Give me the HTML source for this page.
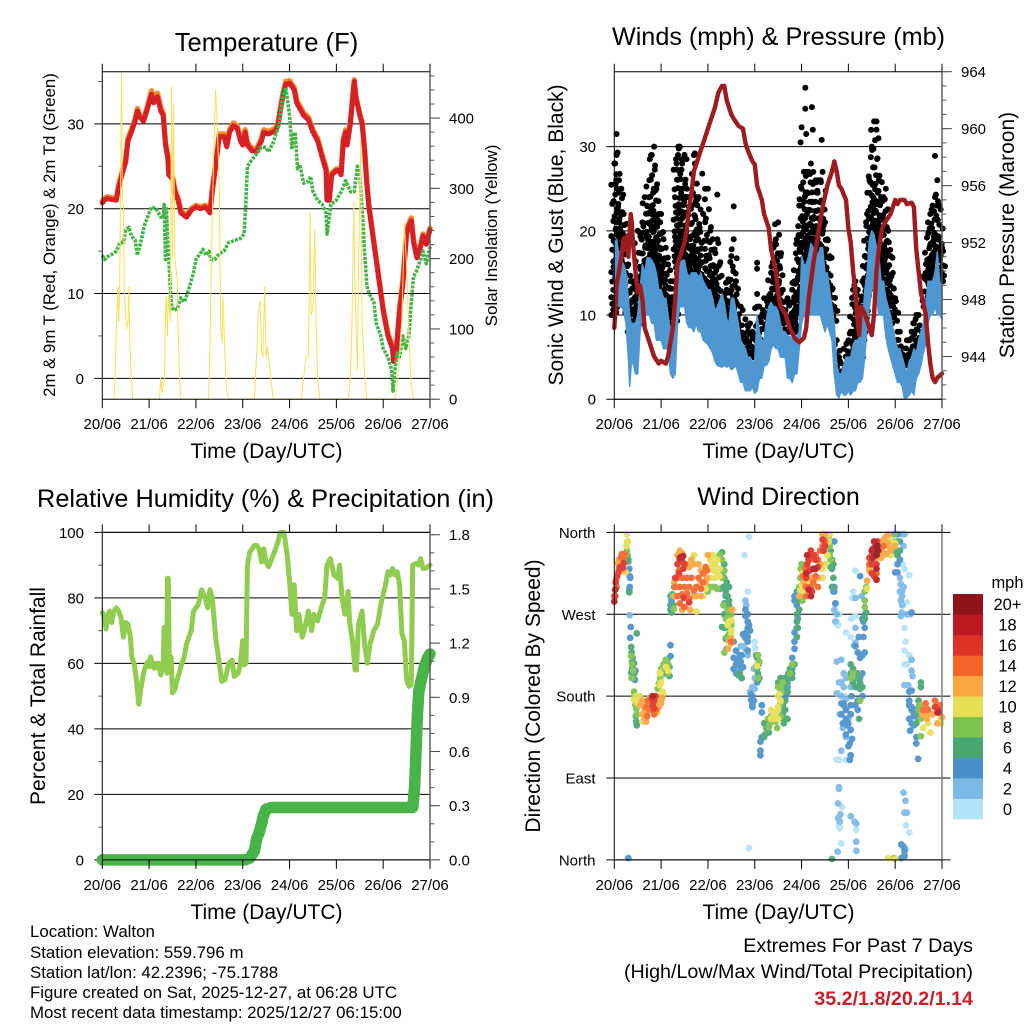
<!DOCTYPE html>
<html lang="en">
<head>
<meta charset="utf-8">
<title>Station Meteogram</title>
<style>
html,body{margin:0;padding:0;background:#fff;}
svg{display:block;font-family:"Liberation Sans",sans-serif;fill:#000;}
</style>
</head>
<body>
<svg id="chart" xmlns="http://www.w3.org/2000/svg" width="1024" height="1024" viewBox="0 0 1024 1024">
<rect width="1024" height="1024" fill="#fff"/>
<g id="marks"></g>
<text x="266.5" y="51" font-size="25.6" text-anchor="middle">Temperature (F)</text>
<text x="778.5" y="45" font-size="25.2" text-anchor="middle">Winds (mph) &amp; Pressure (mb)</text>
<text x="265.5" y="507" font-size="25.3" text-anchor="middle">Relative Humidity (%) &amp; Precipitation (in)</text>
<text x="778.5" y="505" font-size="25" text-anchor="middle">Wind Direction</text>
<text x="266.5" y="458" font-size="21" text-anchor="middle">Time (Day/UTC)</text>
<text x="778.5" y="458" font-size="21" text-anchor="middle">Time (Day/UTC)</text>
<text x="266.5" y="919" font-size="21" text-anchor="middle">Time (Day/UTC)</text>
<text x="778.5" y="919" font-size="21" text-anchor="middle">Time (Day/UTC)</text>
<text transform="translate(55 235) rotate(-90)" font-size="16.8" text-anchor="middle">2m &amp; 9m T (Red, Orange) &amp; 2m Td (Green)</text>
<text transform="translate(497 235.5) rotate(-90)" font-size="17" text-anchor="middle">Solar Insolation (Yellow)</text>
<text transform="translate(563 235) rotate(-90)" font-size="21" text-anchor="middle">Sonic Wind &amp; Gust (Blue, Black)</text>
<text transform="translate(1014 235) rotate(-90)" font-size="21" text-anchor="middle">Station Pressure (Maroon)</text>
<text transform="translate(45 696) rotate(-90)" font-size="21" text-anchor="middle">Percent &amp; Total Rainfall</text>
<text transform="translate(540 696) rotate(-90)" font-size="21" text-anchor="middle">Direction (Colored By Speed)</text>
<text x="1007.5" y="588" font-size="16.5" text-anchor="middle">mph</text>
<g font-size="16.85">
<text x="30" y="937">Location: Walton</text>
<text x="30" y="958">Station elevation: 559.796 m</text>
<text x="30" y="978">Station lat/lon: 42.2396; -75.1788</text>
<text x="30" y="998">Figure created on Sat, 2025-12-27, at 06:28 UTC</text>
<text x="30" y="1018">Most recent data timestamp: 2025/12/27 06:15:00</text>
</g>
<g font-size="19.7" text-anchor="end">
<text x="973" y="952">Extremes For Past 7 Days</text>
<text x="973" y="978">(High/Low/Max Wind/Total Precipitation)</text>
<text x="973" y="1005" font-weight="bold" fill="#c9202b">35.2/1.8/20.2/1.14</text>
</g>
</svg>
<script>
// ---------- shared labels ----------
const dayLabels = ["20/06","21/06","22/06","23/06","24/06","25/06","26/06","27/06"];
const tempTicks = [0,10,20,30];
const tempMinorTicks = [5,15,25,35];
const solarTicks = [0,100,200,300,400];
const windTicks = [0,10,20,30];
const pressureTicks = [944,948,952,956,960,964];
const humidityTicks = [0,20,40,60,80,100];
const humidityMinorTicks = [10,30,50,70,90];
const rainTicks = [0,0.3,0.6,0.9,1.2,1.5,1.8];
const rainTickLabels = ["0.0","0.3","0.6","0.9","1.2","1.5","1.8"];
const directionTicks = [0,90,180,270,360];
const directionLabels = ["North","East","South","West","North"];
const speedLabels = ["0","2","4","6","8","10","12","14","16","18","20+"];
const speedColors = ["#b5e3f9","#7db9e5","#4a90c8","#48a673","#7cc24d","#e6df55","#f7a640","#f26429","#de3227","#bb1a22","#8e1418"];

// ---------- temperature panel ----------
const tempT = [0,.05,.1,.2,.3,.35,.42,.5,.55,.62,.7,.75,.8,.88,.95,1,1.05,1.1,1.18,1.25,1.3,1.35,1.4,1.42,1.5,1.55,1.62,1.68,1.8,1.9,2,2.1,2.2,2.3,2.35,2.42,2.5,2.6,2.66,2.72,2.8,2.88,2.95,3,3.05,3.1,3.2,3.3,3.4,3.45,3.55,3.7,3.75,3.85,3.92,4,4.1,4.15,4.25,4.3,4.4,4.5,4.6,4.7,4.78,4.8,4.85,4.9,5,5.05,5.1,5.15,5.2,5.23,5.3,5.38,5.42,5.5,5.55,5.6,5.65,5.7,5.8,5.9,6,6.1,6.2,6.22,6.28,6.35,6.42,6.5,6.55,6.6,6.65,6.72,6.8,6.85,6.92,7];
const temp2m = [20.7,21,21.2,21.1,21,22.5,24,25.5,28,29,30.3,31.5,30.8,30.3,31.5,32.5,33.5,32.5,33.2,31.5,31,27.5,26,24,23.5,22,21,19.5,19,19.8,20.2,20,20.2,19.5,22,25,28.5,28.5,27.3,29,29.8,29.5,28,27.5,29,27.5,26.8,26.8,28,29,28.8,29.2,29.8,33,34.7,34.8,34,32.5,31.5,31,30.5,29,28,26,24.5,21,21,24,24.5,24.5,24,28,29,27.5,30,35,33,31,30,27,23,20,16,12,8,5,3.5,2,3,8,11,17,18,18.6,16,14.2,15.5,16.8,15.8,17.5];
const temp9m = [20.9,21.2,21.4,21.3,21.2,22.8,24.3,25.8,28.3,29.3,30.6,31.8,31,30.6,31.8,32.8,33.9,32.9,33.6,31.9,31.3,27.8,26.3,24.3,23.8,22.3,21.2,19.8,19.2,20,20.4,20.2,20.4,19.7,22.3,25.3,28.8,28.8,27.6,29.3,30.1,29.8,28.3,27.8,29.3,27.8,27.1,27.1,28.3,29.3,29.1,29.5,30.1,33.3,35,35.1,34.3,32.8,31.8,31.3,30.8,29.3,28.3,26.3,24.8,21.3,21.3,24.2,24.7,24.7,24.2,28.3,29.3,27.8,30.3,35.2,33.2,31.2,30.2,27.2,23.2,20.2,16.2,12.2,8.2,5.3,3.8,2.4,3.4,8.3,11.4,17.4,18.3,18.9,16.3,14.5,15.8,17,16,17.7];
const dewT = [0,.05,.1,.2,.3,.38,.45,.5,.57,.62,.7,.75,.82,.9,1,1.05,1.15,1.25,1.3,1.32,1.35,1.37,1.4,1.42,1.45,1.48,1.52,1.6,1.68,1.75,1.82,1.95,2,2.1,2.15,2.22,2.28,2.32,2.4,2.5,2.6,2.7,2.85,2.95,3.03,3.06,3.1,3.2,3.3,3.4,3.5,3.55,3.65,3.78,3.85,3.92,4,4.03,4.05,4.08,4.1,4.12,4.17,4.22,4.3,4.4,4.45,4.5,4.6,4.7,4.78,4.8,4.85,4.88,5,5.1,5.2,5.3,5.38,5.45,5.5,5.55,5.6,5.65,5.7,5.8,5.85,5.95,6,6.1,6.18,6.21,6.25,6.3,6.35,6.42,6.48,6.55,6.6,6.65,6.7,6.8,6.85,6.92,7];
const dewPoint = [14.5,14,14.3,14.6,15,16,16,17.5,17.8,16.8,16.3,14.5,16,18,19.5,20.2,20,19,18.9,20.5,14,20,16,14,11,8.5,8,8.2,9.5,9,10,12.5,14,14.8,15.2,14.5,15,14,14,14.7,15,16,16.3,16.5,17,20,25,25.8,26.5,27.3,27.2,26.7,27.8,30,33,34.3,31,28.5,27,29,27.5,29,24.7,25.2,23,23.2,23.8,22,21,20.5,19.5,17,19,20.5,21,22,23.3,22,22,25,24,20,15,11,10,9,6.5,5,3.5,2.5,1,-1.5,1,3,2.5,5,3.5,5,9,12,12.5,14,15,13.5,15.5];
const solarT = [.25,.27,.3,.33,.35,.37,.39,.41,.43,.45,.47,.5,.52,.55,.57,.59,.62,.65,1.22,1.25,1.28,1.33,1.35,1.37,1.39,1.41,1.45,1.48,1.5,1.52,1.55,1.6,1.62,1.65,1.68,2.27,2.3,2.33,2.38,2.42,2.45,2.5,2.53,2.56,2.58,2.62,2.65,2.7,3.25,3.3,3.33,3.37,3.4,3.43,3.47,3.5,3.53,3.55,3.6,3.65,4.25,4.3,4.35,4.4,4.44,4.46,4.5,4.54,4.57,4.6,4.65,5.25,5.3,5.33,5.35,5.37,5.4,5.45,5.48,5.52,5.55,5.6,5.65,6.25,6.3,6.35,6.4,6.45,6.5,6.55,6.6,6.65];
const solarValues = [0,20,100,160,110,150,300,465,280,280,150,120,100,110,160,80,30,0,0,30,10,30,130,145,90,150,110,445,200,420,200,170,100,30,0,0,80,200,350,440,400,300,100,80,145,60,15,0,0,70,120,140,70,60,160,60,75,60,30,0,0,30,60,60,265,120,130,240,100,30,0,0,30,100,180,280,150,40,220,370,110,40,0,0,20,60,110,250,190,90,20,0];

// ---------- winds panel ----------
const gustT = [0,.05,.1,.15,.2,.3,.35,.4,.45,.5,.6,.65,.7,.75,.8,.85,.9,.95,1,1.05,1.1,1.15,1.2,1.25,1.3,1.33,1.36,1.4,1.45,1.5,1.55,1.6,1.7,1.75,1.8,1.9,2,2.05,2.1,2.15,2.2,2.25,2.3,2.35,2.4,2.45,2.5,2.55,2.6,2.7,2.8,2.85,2.9,2.95,3,3.05,3.1,3.2,3.3,3.35,3.4,3.45,3.5,3.55,3.6,3.7,3.8,3.85,3.9,3.95,4,4.05,4.1,4.15,4.2,4.25,4.3,4.35,4.4,4.45,4.5,4.55,4.6,4.65,4.7,4.75,4.8,4.9,5,5.05,5.1,5.15,5.2,5.25,5.3,5.35,5.4,5.45,5.5,5.55,5.6,5.65,5.7,5.75,5.8,5.85,5.9,5.95,6,6.05,6.1,6.2,6.25,6.3,6.35,6.4,6.45,6.5,6.65,6.7,6.75,6.8,6.85,6.9,6.95,7];
const gustHigh = [28,29,26,25,22,16,14,14,14,20,21,24,23,26,29,30,25,22,22,19,18,16,14,14,14,28,29,30,28,29,25,24,29,24,24,22,25,20,19,15,19,16,12,12,13,14,17,19,14,11,9.5,8,9,8,7.5,11,11,12,12,15,18,19,21,17,13,12,13,14,19,23,25,27,27,27,28,27,26,26,26,27,21,19,17,13,11,7,5,6,7,8,13,14,13,9,14,17,22,26,30,33,32,26,24,24,25,20,17,15,12,8,8,5,7,7,8,9,10,10,15,21,22,23,24,23,23,18];
const gustLow = [10,14,16,18,14,10,8,9,10,9,12,12,13,14,15,15,14,14,12,11,10,9,9,9,9,16,15,14,15,15,15,14,14,14,13,12,12,12,11,10,10,10,9,9,9,8,10,11,9,7,6,5.5,5,5,5,5,6,8,9,10,10,10,10,9,9,8,8,8,10,10,12,13,14,14,15,14,15,15,13,12,11,11,11,10,9,5,3,3,3,2,3,5,6,5,6,9,12,15,17,18,17,15,14,15,12,12,11,10,9,5,5,2,4,4,5,6,7,8,11,14,14,14,15,15,14,14];
const gustOutlierT = [.05,.07,4.08,4.08,4.22,4.24,4.1,4,3.98,4.43,1.37,1.5,1.72,1.88,2.2,2.55,3.05,3.05,3.05,6.85,6.9,6.87,5.6,1.94,.02,.04];
const gustOutlierV = [31.5,29.3,37,34.5,34.7,32,31.5,32.3,30.5,30.8,30,29,29.2,26.8,24.3,22.9,16.2,15.5,12.5,28.9,26,24.3,33,25,28,26];
const windT = [0,.05,.1,.15,.2,.25,.3,.33,.36,.4,.45,.5,.55,.6,.65,.7,.75,.8,.85,.9,.95,1,1.05,1.1,1.15,1.2,1.25,1.3,1.35,1.4,1.45,1.5,1.55,1.6,1.65,1.7,1.75,1.8,1.85,1.9,2,2.05,2.1,2.15,2.2,2.3,2.35,2.4,2.45,2.5,2.55,2.6,2.65,2.7,2.75,2.8,2.85,2.9,2.95,3,3.05,3.1,3.15,3.2,3.25,3.3,3.35,3.4,3.45,3.5,3.55,3.6,3.65,3.7,3.75,3.8,3.85,3.9,3.95,4,4.05,4.1,4.15,4.2,4.25,4.3,4.35,4.4,4.45,4.5,4.55,4.6,4.65,4.7,4.75,4.8,4.85,4.9,4.95,5,5.05,5.1,5.15,5.2,5.25,5.3,5.35,5.4,5.45,5.5,5.55,5.6,5.65,5.7,5.75,5.8,5.85,5.9,5.95,6,6.05,6.1,6.15,6.2,6.25,6.3,6.35,6.4,6.45,6.5,6.55,6.6,6.65,6.7,6.75,6.8,6.85,6.9,6.95,7];
const windHigh = [18.5,19,17,16.5,16,15,12,10,9,9,9,10,13,16,15,16.8,16.8,16.5,16,15,13,13,12,12,10,8,9,10,15,16,16.5,16.5,15,14.5,15,15,15,14.5,15,14,13,13,12,10.5,11,12.5,11.5,9.5,9,12,12,10.5,9,7,6.5,6,5,5,4.5,4.5,10,8,7,7,9.5,11,11.5,11,11,10.5,9,8,8,7.5,7.5,7,7.5,7.5,8,17,16,16,17,18.5,18,18,17,18,18,15,15,13,11,9,4,3,3,4,5,5,5,6.5,7,7,7.5,9,13,15,19,20,19.5,18,17,14,14,12,11,10,8.5,7,6,6,5,4,3,4.5,5,6,5.5,7,8,9,11,14,14,14,15,17.5,14,13];
const windLow = [11,12,11,11,10.5,9,5,1.5,4,4.5,3,3,8,10,10,10,10,9,9,7,7,7,6,6,6,3,2.5,3,9,11,11,11,9,8.5,8.5,8,9,8,8,7,6.5,6,5.5,4.5,4,3.8,4,3.8,4,3.5,3.7,4,3,2,2,1,1,1,1.5,.7,1,2.5,2.5,4,4,4.5,6,6.5,6,6,5,5,5,2.5,2.5,2,3,3,6,9,10,10,10,10,10,10,10,10,9,8,9,8,7,3,.5,.2,1,.5,.5,1,.5,1,1,2,2,2.5,5,9,11,13,14,12,10,10,10,7.5,6,5,4,3,2,2,1.5,0,.2,.5,1,.5,2.5,3,4,5.5,6.5,9,10,10,11,10,10,9.5];
const pressureT = [0,.03,.05,.1,.15,.2,.25,.28,.3,.35,.37,.4,.45,.5,.55,.6,.65,.7,.75,.8,.85,.95,1,1.1,1.15,1.2,1.25,1.3,1.35,1.4,1.5,1.55,1.6,1.65,1.7,1.75,1.85,1.95,2.05,2.15,2.22,2.3,2.35,2.4,2.5,2.55,2.65,2.75,2.8,2.85,2.95,3,3.05,3.15,3.2,3.3,3.35,3.45,3.5,3.55,3.65,3.75,3.85,3.95,4.05,4.1,4.15,4.25,4.35,4.45,4.55,4.65,4.7,4.75,4.8,4.85,4.95,5,5.05,5.1,5.15,5.2,5.23,5.27,5.35,5.45,5.5,5.55,5.6,5.65,5.72,5.8,5.9,6,6.05,6.1,6.2,6.25,6.35,6.4,6.45,6.5,6.55,6.65,6.7,6.75,6.8,6.85,6.9,7];
const pressureValues = [946,947.5,949,950,951,952.3,951.5,952.5,951,954,953.5,952,950,948.5,949,948,946,945.5,945,944.5,944,943.5,943.7,943.5,944,945,946,948,950.5,951,952,953,954.5,955.5,957,957.5,958.5,959.5,960.5,961.5,962.5,963,963,962,961,960.7,960.2,960,959,958.5,957.7,957.5,956,955,954,953,951.5,950,948.5,947.5,947,946,945.3,945,945.3,946,948,950.5,952.5,954.5,956,957,957.7,957,956,955.8,955,953,952,950,948.5,946.5,945.5,947.5,947,946,945.5,947,950,951.5,953,953.5,954,955,954.7,955,955,954.7,954.8,954.5,951.5,950,948.5,947,945,943.5,942.5,942.2,942.5,942.8];

// ---------- humidity panel ----------
const humidityT = [0,.05,.08,.12,.16,.2,.25,.3,.35,.4,.45,.5,.55,.6,.63,.68,.72,.78,.82,.88,.92,.97,1,1.03,1.08,1.12,1.15,1.2,1.25,1.3,1.32,1.35,1.38,1.39,1.41,1.43,1.47,1.5,1.55,1.6,1.7,1.75,1.8,1.9,1.95,2.05,2.12,2.2,2.25,2.3,2.35,2.42,2.5,2.55,2.62,2.7,2.77,2.82,2.9,2.95,3,3.03,3.07,3.1,3.15,3.25,3.3,3.35,3.4,3.45,3.5,3.55,3.65,3.75,3.8,3.88,3.95,4,4.05,4.1,4.15,4.2,4.27,4.35,4.4,4.47,4.52,4.6,4.7,4.75,4.8,4.87,4.95,5.03,5.07,5.12,5.18,5.25,5.28,5.35,5.4,5.43,5.47,5.55,5.6,5.66,5.72,5.8,5.88,5.95,6.05,6.1,6.15,6.2,6.25,6.3,6.35,6.4,6.45,6.5,6.55,6.6,6.63,6.7,6.75,6.8,6.85,6.9,7];
const humidityValues = [75.5,74,70.5,75,76,72.5,76,77,76,74,68,72.5,72,68,62,60,56,47.5,52,57,59,60.5,59,62,59,58.5,60,60,56.5,60,71,62,57,86,86,62,62,51,52,55,60,62,66,70,76,78,82.5,80,77,82.5,80,68,60,54.5,55,60,61,56,57,60,67,59.5,60,90,94,96,96,95,91,95,91,89.5,93,97,100,100,93,85,75,84,70,75,68,72,76,70,75,73,78,80,90,92,87,86,90,80,75,82,73,66,58,58,72,76,66,60,66,70,72,78,84,88,87,89,87,88,84,69,67,55,53,53.5,90,90.5,90,92,89,89,90];
const rainT = [0,1,2,3.05,3.15,3.25,3.3,3.35,3.4,3.45,3.5,3.6,4,5,6,6.55,6.63,6.67,6.7,6.73,6.76,6.8,6.88,6.95,7];
const rainValues = [0,0,0,0,.01,.05,.12,.15,.2,.25,.28,.29,.29,.29,.29,.29,.29,.4,.6,.8,.93,.98,1.07,1.12,1.14];

// ---------- wind direction panel: [time, degrees, time, degrees, ...] for each speed class ----------
const speedClass0 = [2.85,295,2.78,335,2.88,355,2.88,13,3,240,3.01,233,4.8,270,4.75,262,4.78,258,4.8,183,4.92,180,4.75,110,4.8,110,4.95,110,4.95,250,5.05,245,5.06,265,5.08,288,5.1,295,5.15,268,5.15,318,6.2,320,6.15,325,6.3,313,6.25,283,6.2,255,6.22,240,6.2,230,6.3,225,6.2,215,6.25,215,4.87,58,4.82,35,4.8,38,4.85,18,5.17,33,6.23,38,6.3,30];
const speedClass2 = [.33,269,2.7,235,2.8,232,2.85,225,2.8,285,2.82,280,2.75,235,2.98,210,3,200,2.95,190,2.9,185,2.95,188,3,188,4.75,270,4.7,275,4.72,262,4.73,282,4.75,218,4.85,220,4.9,205,4.85,195,4.95,200,4.8,195,4.75,183,4.9,190,4.85,180,4.82,160,5,155,4.95,135,4.88,145,4.85,120,4.95,177,5.05,160,5.05,190,5.15,239,5.12,236,5.15,288,5.28,290,5.15,255,6.15,358,6.2,358,6.18,345,6.1,310,6.12,303,6.15,296,6.15,290,6.1,295,6.12,285,6.15,280,6.18,300,6.12,268,6.14,272,6.25,270,6.32,270,6.35,220,6.35,208,6.37,202,6.2,192,6.28,192,4.8,80,4.8,78,4.78,62,4.83,50,4.78,46,4.82,42,4.77,9,5.05,48,5.13,42,5.17,40,5.17,20,5.17,10,6.18,74,6.22,65,6.2,52,6.25,52,6.22,12,6.2,3];
const speedClass4 = [.32,320,.33,312,.34,310,.33,300,.32,296,.35,256,.34,244,.45,208,.44,198,1.2,236,1.2,224,1.2,275,1.2,280,1.22,285,1.2,290,2.55,240,2.6,230,2.55,222,2.6,215,2.65,220,2.7,218,2.6,205,2.65,205,2.7,210,2.72,200,2.62,215,2.55,210,2.68,225,2.75,212,2.72,225,2.85,230,2.85,270,2.85,262,2.8,275,2.85,255,2.8,268,2.88,258,2.82,250,2.9,252,2.85,245,2.75,248,2.8,244,2.85,240,2.92,176,2.95,170,2.92,182,2.95,180,2.98,175,2.95,168,3.15,170,3.05,195,3.1,200,3.15,162,3.12,115,3.15,135,3.12,130,3.12,120,3.62,165,3.65,178,3.68,182,3.7,190,3.75,200,3.72,205,3.8,210,3.8,222,3.85,232,3.85,240,3.85,250,3.9,255,3.92,270,3.92,265,3.9,280,3.85,285,3.85,290,3.9,295,4.7,350,4.68,295,4.7,300,4.72,282,4.7,295,4.9,170,4.95,165,4.85,160,4.95,155,4.98,148,5,150,5.05,160,4.95,138,5,125,5.03,128,5.03,110,5.05,115,4.9,172,5.05,170,4.85,172,5.05,143,5.08,133,4.88,150,5.07,180,5.15,170,5.2,175,5.2,165,5.3,180,5.25,192,5.35,228,5.3,225,5.3,205,5.25,200,5.25,222,5.2,228,5.15,235,5.3,265,5.35,255,5.32,262,5.35,270,5.22,245,5.32,245,5.25,312,6,358,6.05,358,6.1,350,6.1,330,6.05,325,6,316,6.05,316,6.35,272,6.3,185,6.35,186,6.3,175,6.3,170,6.35,165,6.3,155,6.35,150,6.32,142,6.4,160,6.45,135,6.45,128,6.4,158,6.5,160,6.5,155,6.4,148,6.49,111,6.35,168,6.45,165,.3,2,6.13,17,6.17,15,6.2,10,6.2,5,6.13,2];
const speedClass6 = [.3,330,.28,335,.3,328,.32,294,.48,249,.36,234,.37,228,.39,222,.38,218,.4,215,.42,216,.38,210,.37,205,.4,200,.36,206,.43,205,.47,152,.48,148,.46,158,1.08,205,1.1,210,1.15,215,1.13,220,1.18,212,1.18,202,1.22,272,1.26,280,1.24,292,1.28,300,2.3,338,2.35,325,2.3,315,2.35,310,2.33,300,2.4,305,2.25,298,2.45,300,2.38,295,2.38,290,2.35,282,2.42,290,2.45,285,2.35,270,2.45,280,2.5,275,2.35,255,2.38,243,2.5,262,2.45,255,2.3,256,2.45,262,2.4,232,2.65,203,2.72,200,2.68,205,3.03,225,3.05,222,3.08,215,3.05,212,3.07,205,3.08,198,3.05,210,3.2,150,3.25,145,3.3,140,3.22,138,3.2,135,3.3,150,3.6,170,3.65,165,3.65,175,3.7,155,3.6,160,3.6,155,3.62,150,3.63,153,3.5,195,3.55,200,3.6,190,3.65,200,3.7,195,3.7,185,3.75,210,3.8,200,3.85,215,3.8,205,3.9,245,3.92,255,3.9,262,3.95,275,3.9,270,3.95,285,4.62,340,4.65,330,4.68,325,4.62,322,4.68,310,4.65,300,4.65,320,5.05,215,5.1,210,5.05,200,5.1,195,5.15,190,5.2,200,5.25,195,5.2,205,5.3,190,5.25,188,5.05,205,5.23,155,5.38,272,5.35,265,5.98,340,6.05,335,6.05,350,6.1,340,6.5,175,6.55,195,6.55,190,6.52,165,6.5,160,6.45,150,4.65,1];
const speedClass8 = [.27,340,.28,350,.26,336,.36,224,.38,215,.37,200,.4,208,.42,185,.43,180,.45,170,.47,166,.48,160,.95,194,.98,200,1,210,1.05,215,1.1,220,1.15,215,1,205,.93,188,1.15,205,1.25,290,1.27,276,2,295,2.1,300,2.15,300,2.3,330,2.35,318,2.3,310,2.25,335,2.05,300,2.2,298,2.42,275,2.45,270,2.5,270,2.45,248,2.5,258,2.4,245,2.38,265,2.33,280,2.35,228,3.03,213,3.07,225,3.1,218,3.07,200,3.28,155,3.33,150,3.35,158,3.3,146,3.45,152,3.55,158,3.48,145,3.55,172,3.55,185,3.55,190,3.6,195,3.75,205,3.8,215,3.5,190,3.98,290,4,295,4,300,3.95,300,3.97,310,4.02,285,3.98,320,4,325,4.58,355,4.6,345,4.6,335,4.62,330,5.05,200,5.25,175,5.1,205,5.35,278,5.35,285,5.35,295,5.38,300,5.95,350,5.98,358,6.5,165,6.52,170,6.55,136,6.55,155,5.97,2];
const speedClass10 = [.24,316,.27,358,.27,350,.26,345,.43,176,.46,180,.5,178,.55,180,.5,172,.98,180,1,175,1.03,185,1.05,183,.92,162,.6,152,1,195,.98,205,.97,192,.97,206,1.1,212,1.15,208,1.76,273,1.95,298,2,320,2.05,330,2.1,325,2.12,318,2.15,325,2.2,330,2.2,315,2.25,320,2.15,310,2.05,310,2.1,335,2,310,1.9,290,1.7,335,1.65,325,2.25,312,2.5,263,2.5,252,2.45,262,2.42,258,2.5,248,3.05,213,3.35,155,3.4,160,3.45,162,3.5,165,3.35,165,3.42,155,3.5,155,3.55,175,3.5,168,3.5,180,3.52,182,3.97,296,4,303,4.05,295,4.02,315,4.45,320,4.45,310,4.55,335,4.5,325,4.15,305,4.6,358,4.55,358,4.58,350,5.4,298,5.85,355,5.9,350,5.95,345,6,348,5.9,335,6.6,145,6.7,150,6.75,140,6.62,160,6.98,150,6.98,155,5.85,2,6,1];
const speedClass12 = [.08,326,.1,330,.13,325,.16,327,.19,318,.55,170,.6,175,.6,160,.65,155,.68,152,.7,165,.7,172,.75,178,.8,180,.9,174,.95,168,1,172,1.02,178,.65,165,1.3,290,1.28,305,1.35,335,1.4,340,1.45,337,1.55,325,1.6,322,1.65,330,1.7,325,1.7,290,1.8,325,1.85,318,1.85,305,1.75,290,1.95,305,1.98,310,2,335,1.85,290,1.62,275,1.45,275,2.5,243,2.52,275,2.5,238,2.45,240,2.43,232,3.95,290,4.05,305,4.08,300,4.15,320,4.2,330,4.3,320,4.35,310,4.4,325,4.45,340,4.2,310,4.45,358,4.5,358,5.4,307,5.45,318,5.45,322,5.6,332,5.7,345,5.75,352,5.85,348,5.8,336,5.7,332,5.65,335,5.75,338,5.85,345,5.9,340,6,345,5.8,355,5.85,358,6.58,160,6.65,170,6.7,160,6.68,155,6.9,150,7,157,6.8,160];
const speedClass14 = [0,290,.05,300,.04,308,.1,320,.14,332,.16,336,.2,332,.22,336,.68,168,.72,175,.75,165,.8,168,.85,160,.7,158,.9,165,1.3,300,1.35,290,1.4,300,1.35,310,1.38,318,1.45,310,1.5,300,1.55,293,1.6,300,1.65,310,1.75,300,1.8,310,1.9,305,1.7,296,1.55,310,1.45,292,1.4,282,1.5,278,1.6,287,1.85,298,1.95,322,1.9,315,1.98,318,2.5,240,4.03,312,4.08,320,4.1,300,4.2,300,4.25,305,4.3,312,4.35,330,4.4,340,4.3,335,4.45,345,4.5,350,4.35,300,4.1,290,5.45,325,5.5,335,5.55,325,5.65,340,5.6,315,5.75,345,6.65,172,6.6,165,6.7,165,6.85,175,6.95,170,6.88,168];
const speedClass16 = [.03,305,.06,312,.09,316,.02,290,.12,322,.18,321,.2,326,.8,177,.82,170,.85,175,.88,180,.85,166,1.35,325,1.38,315,1.4,330,1.42,333,1.45,328,1.47,320,1.3,310,1.5,325,1.48,288,1.6,283,4.1,310,4.12,325,4.17,318,4.2,340,4.25,335,4.3,330,4.35,322,4.47,340,4.45,352,4.5,345,4.15,330,4.22,295,5.45,332,5.5,325,5.52,342,5.6,338,5.55,312,5.6,325,5.62,350,5.5,315,6.85,168,6.9,162,6.92,165];
const speedClass18 = [0,284,.02,297,.82,180,1.4,332,1.47,334,4.1,315,4.12,335,4.25,320,4.3,320,4.15,297,4.2,290,5.5,340,5.55,350,5.58,345,5.52,332,5.6,320,5.55,335,5.6,308,6.92,162];
const speedClass20 = [5.63,340,5.62,345,5.6,335];
const speedClasses = [speedClass0,speedClass2,speedClass4,speedClass6,speedClass8,speedClass10,speedClass12,speedClass14,speedClass16,speedClass18,speedClass20];

// ---------- plumbing ----------
const NS = "http://www.w3.org/2000/svg";
const root = document.getElementById("marks");
const PANEL_W = 327.7, PANEL_H = 327.5;
const panels = {
  temp: {left:102.3, top:71.7},
  wind: {left:614.3, top:71.7},
  hum: {left:102.3, top:532.4},
  dir: {left:614.3, top:532.4}
};
const gustJitter = [-3,2,-1,3,-2,1];
const axisX = (p,t) => p.left + t * PANEL_W / 7;
const linearY = (p,lo,hi) => v => p.top + PANEL_H * (hi - v) / (hi - lo);
const yTemp = linearY(panels.temp,-2.46,36.15);
const ySolar = linearY(panels.temp,0,466);
const yWind = linearY(panels.wind,0,38.9);
const yPressure = linearY(panels.wind,941,964);
const yHum = linearY(panels.hum,0,100);
const yRain = linearY(panels.hum,0,1.813);
const yDir = linearY(panels.dir,0,360);

function make(tag, name, attrs, parent) {
  const el = document.createElementNS(NS, tag);
  
  
  for (const k in attrs) el.setAttribute(k, attrs[k]);
  (parent || root).appendChild(el);
  return el;
}
function seg(g, name, x1, y1, x2, y2, color, w) {
  return make('line', name, {x1, y1, x2, y2, stroke: color || '#000', 'stroke-width': w || 1}, g);
}
function label(g, name, str, x, y, anchor, size) {
  const t = make('text', name, {x, y, 'text-anchor': anchor, 'font-size': size || 15}, g);
  t.textContent = str;
  return t;
}
function series(name, p, xs, ys, yFn, color, width, extra) {
  const pts = xs.map((t,i) => axisX(p,t).toFixed(1) + ',' + yFn(ys[i]).toFixed(1)).join(' ');
  return make('polyline', name, Object.assign({points: pts, fill: 'none', stroke: color, 'stroke-width': width, 'stroke-linejoin': 'round', 'stroke-linecap': 'round'}, extra || {}));
}

function gridAndFrame(p, name, gridValues, yFn, rightExtent) {
  const g = make('g', name + '-grid', {});
  gridValues.forEach(v => {
    seg(g, name + '-gridline', p.left - 8, yFn(v), rightExtent, yFn(v));
  });
  return g;
}
function frame(p, name, rightColor) {
  const g = make('g', name + '-frame', {});
  const r = p.left + PANEL_W, b = p.top + PANEL_H;
  seg(g, name + '-top-edge', p.left, p.top, r, p.top);
  seg(g, name + '-bottom-edge', p.left, b, r, b);
  seg(g, name + '-left-edge', p.left, p.top, p.left, b);
  seg(g, name + '-right-edge', r, p.top, r, b, rightColor || '#555', 1.4);
  dayLabels.forEach((d,i) => {
    const x = axisX(p,i);
    seg(g, name + '-top-tick', x, p.top - 8, x, p.top);
    seg(g, name + '-bottom-tick', x, b, x, b + 9);
    label(g, name + '-x-tick-label', d, x, b + 30, 'middle');
  });
  return g;
}
function leftLabels(g, name, vals, yFn, texts) {
  vals.forEach((v,i) => label(g, name + '-y-tick-label', texts ? texts[i] : String(v), panelLabelX(g), yFn(v) + 5.5, 'end'));
}
function panelLabelX(g) { return +g.getAttribute('data-lx'); }
function rightAxis(p, name, vals, yFn, texts, minorLo, minorHi, minorStep) {
  const g = make('g', name + '-right-axis', {});
  const r = p.left + PANEL_W;
  vals.forEach((v,i) => {
    seg(g, name + '-right-tick', r, yFn(v), r + 10, yFn(v), '#444');
    label(g, name + '-right-tick-label', texts ? texts[i] : String(v), r + 19, yFn(v) + 5.5, 'start');
  });
  for (let n = 0; minorLo + n * minorStep <= minorHi + 1e-6; n++) {
    const y = yFn(minorLo + n * minorStep);
    seg(g, name + '-right-minor-tick', r, y, r + 4.5, y, '#555');
  }
}

// ---------- temperature panel ----------
gridAndFrame(panels.temp, 'temperature', tempTicks, yTemp, panels.temp.left + PANEL_W);
series('temperature-9m-line', panels.temp, tempT, temp9m, yTemp, '#f58a2e', 5.4);
series('temperature-2m-line', panels.temp, tempT, temp2m, yTemp, '#d62027', 5);
series('dewpoint-line', panels.temp, dewT, dewPoint, yTemp, '#45b348', 3.6, {'stroke-dasharray': '3 1.2', 'stroke-linecap': 'butt'});
series('solar-insolation-line', panels.temp, solarT, solarValues, ySolar, '#fbdf5e', 1);
{
  const f = frame(panels.temp, 'temperature');
  f.setAttribute('data-lx', 84);
  leftLabels(f, 'temperature', tempTicks, yTemp);
  tempMinorTicks.forEach(v => seg(f, 'temperature-minor-tick', panels.temp.left - 4, yTemp(v), panels.temp.left, yTemp(v), '#555'));
  rightAxis(panels.temp, 'solar', solarTicks, ySolar, null, 0, 460, 20);
}

// ---------- winds panel ----------
gridAndFrame(panels.wind, 'winds', windTicks, yWind, panels.wind.left + PANEL_W);
{
  const gustLayer = make('g', 'gust-dots', {fill: '#000'});
  // each reading column spans its read low/high gust; dots thin out toward the high end
  gustT.forEach((t,i) => {
    const lo = gustLow[i], hi = gustHigh[i];
    let v = lo, n = 0;
    while (v < hi) {
      const frac = (v - lo) / Math.max(hi - lo, 0.1);
      make('circle', 'gust-dot', {cx: (axisX(panels.wind,t) + gustJitter[(n + i) % gustJitter.length]).toFixed(1), cy: yWind(v).toFixed(1), r: 3}, gustLayer);
      v += 0.3 + 1.1 * frac;
      n++;
    }
    make('circle', 'gust-dot', {cx: axisX(panels.wind,t).toFixed(1), cy: yWind(hi).toFixed(1), r: 3}, gustLayer);
  });
  gustOutlierT.forEach((t,i) => make('circle', 'gust-dot', {cx: axisX(panels.wind,t).toFixed(1), cy: yWind(gustOutlierV[i]).toFixed(1), r: 3}, gustLayer));
  const upper = windT.map((t,i) => axisX(panels.wind,t).toFixed(1) + ',' + yWind(windHigh[i]).toFixed(1));
  const lower = windT.map((t,i) => axisX(panels.wind,t).toFixed(1) + ',' + yWind(windLow[i]).toFixed(1)).reverse();
  make('polygon', 'sonic-wind-band', {points: upper.concat(lower).join(' '), fill: '#4f97d1', stroke: '#4f97d1', 'stroke-width': 1.5, 'stroke-linejoin': 'round'});
}
series('station-pressure-line', panels.wind, pressureT, pressureValues, yPressure, '#9c1c20', 4.4);
{
  const f = frame(panels.wind, 'winds');
  f.setAttribute('data-lx', 596);
  leftLabels(f, 'winds', windTicks, yWind);
  rightAxis(panels.wind, 'pressure', pressureTicks, yPressure, null, 941, 964, 1);
}

// ---------- humidity panel ----------
gridAndFrame(panels.hum, 'humidity', humidityTicks, yHum, panels.hum.left + PANEL_W);
series('relative-humidity-line', panels.hum, humidityT, humidityValues, yHum, '#90cc50', 5);
series('total-rainfall-line', panels.hum, rainT, rainValues, yRain, '#48b348', 11.5);
{
  const f = frame(panels.hum, 'humidity');
  f.setAttribute('data-lx', 84);
  leftLabels(f, 'humidity', humidityTicks, yHum);
  humidityMinorTicks.forEach(v => seg(f, 'humidity-minor-tick', panels.hum.left - 4, yHum(v), panels.hum.left, yHum(v), '#555'));
  rightAxis(panels.hum, 'rainfall', rainTicks, yRain, rainTickLabels, 0, 1.8, 0.1);
}

// ---------- wind direction panel ----------
gridAndFrame(panels.dir, 'direction', directionTicks, yDir, panels.dir.left + PANEL_W + 8.5);
{
  const dots = make('g', 'wind-direction-dots', {opacity: 0.92});
  speedClasses.forEach((pairs, c) => {
    for (let i = 0; i < pairs.length; i += 2) {
      make('circle', 'wind-direction-dot', {cx: axisX(panels.dir,pairs[i]).toFixed(1), cy: yDir(pairs[i+1]).toFixed(1), r: 3.4, fill: speedColors[c]}, dots);
    }
  });
  const f = frame(panels.dir, 'direction', '#777');
  f.setAttribute('data-lx', 595.5);
  leftLabels(f, 'direction', directionTicks, yDir, directionLabels);
  const legendTop = 594, boxH = 225 / speedLabels.length;
  const legend = make('g', 'speed-legend', {});
  speedLabels.forEach((s,i) => {
    const row = speedLabels.length - 1 - i;
    make('rect', 'legend-swatch-' + s, {x: 953, y: (legendTop + row * boxH).toFixed(2), width: 30, height: (boxH + 0.3).toFixed(2), fill: speedColors[i]}, legend);
    label(legend, 'legend-label-' + s, s, 1007.5, legendTop + row * boxH + boxH / 2 + 6, 'middle', 16.5);
  });
}
</script>
</body>
</html>
